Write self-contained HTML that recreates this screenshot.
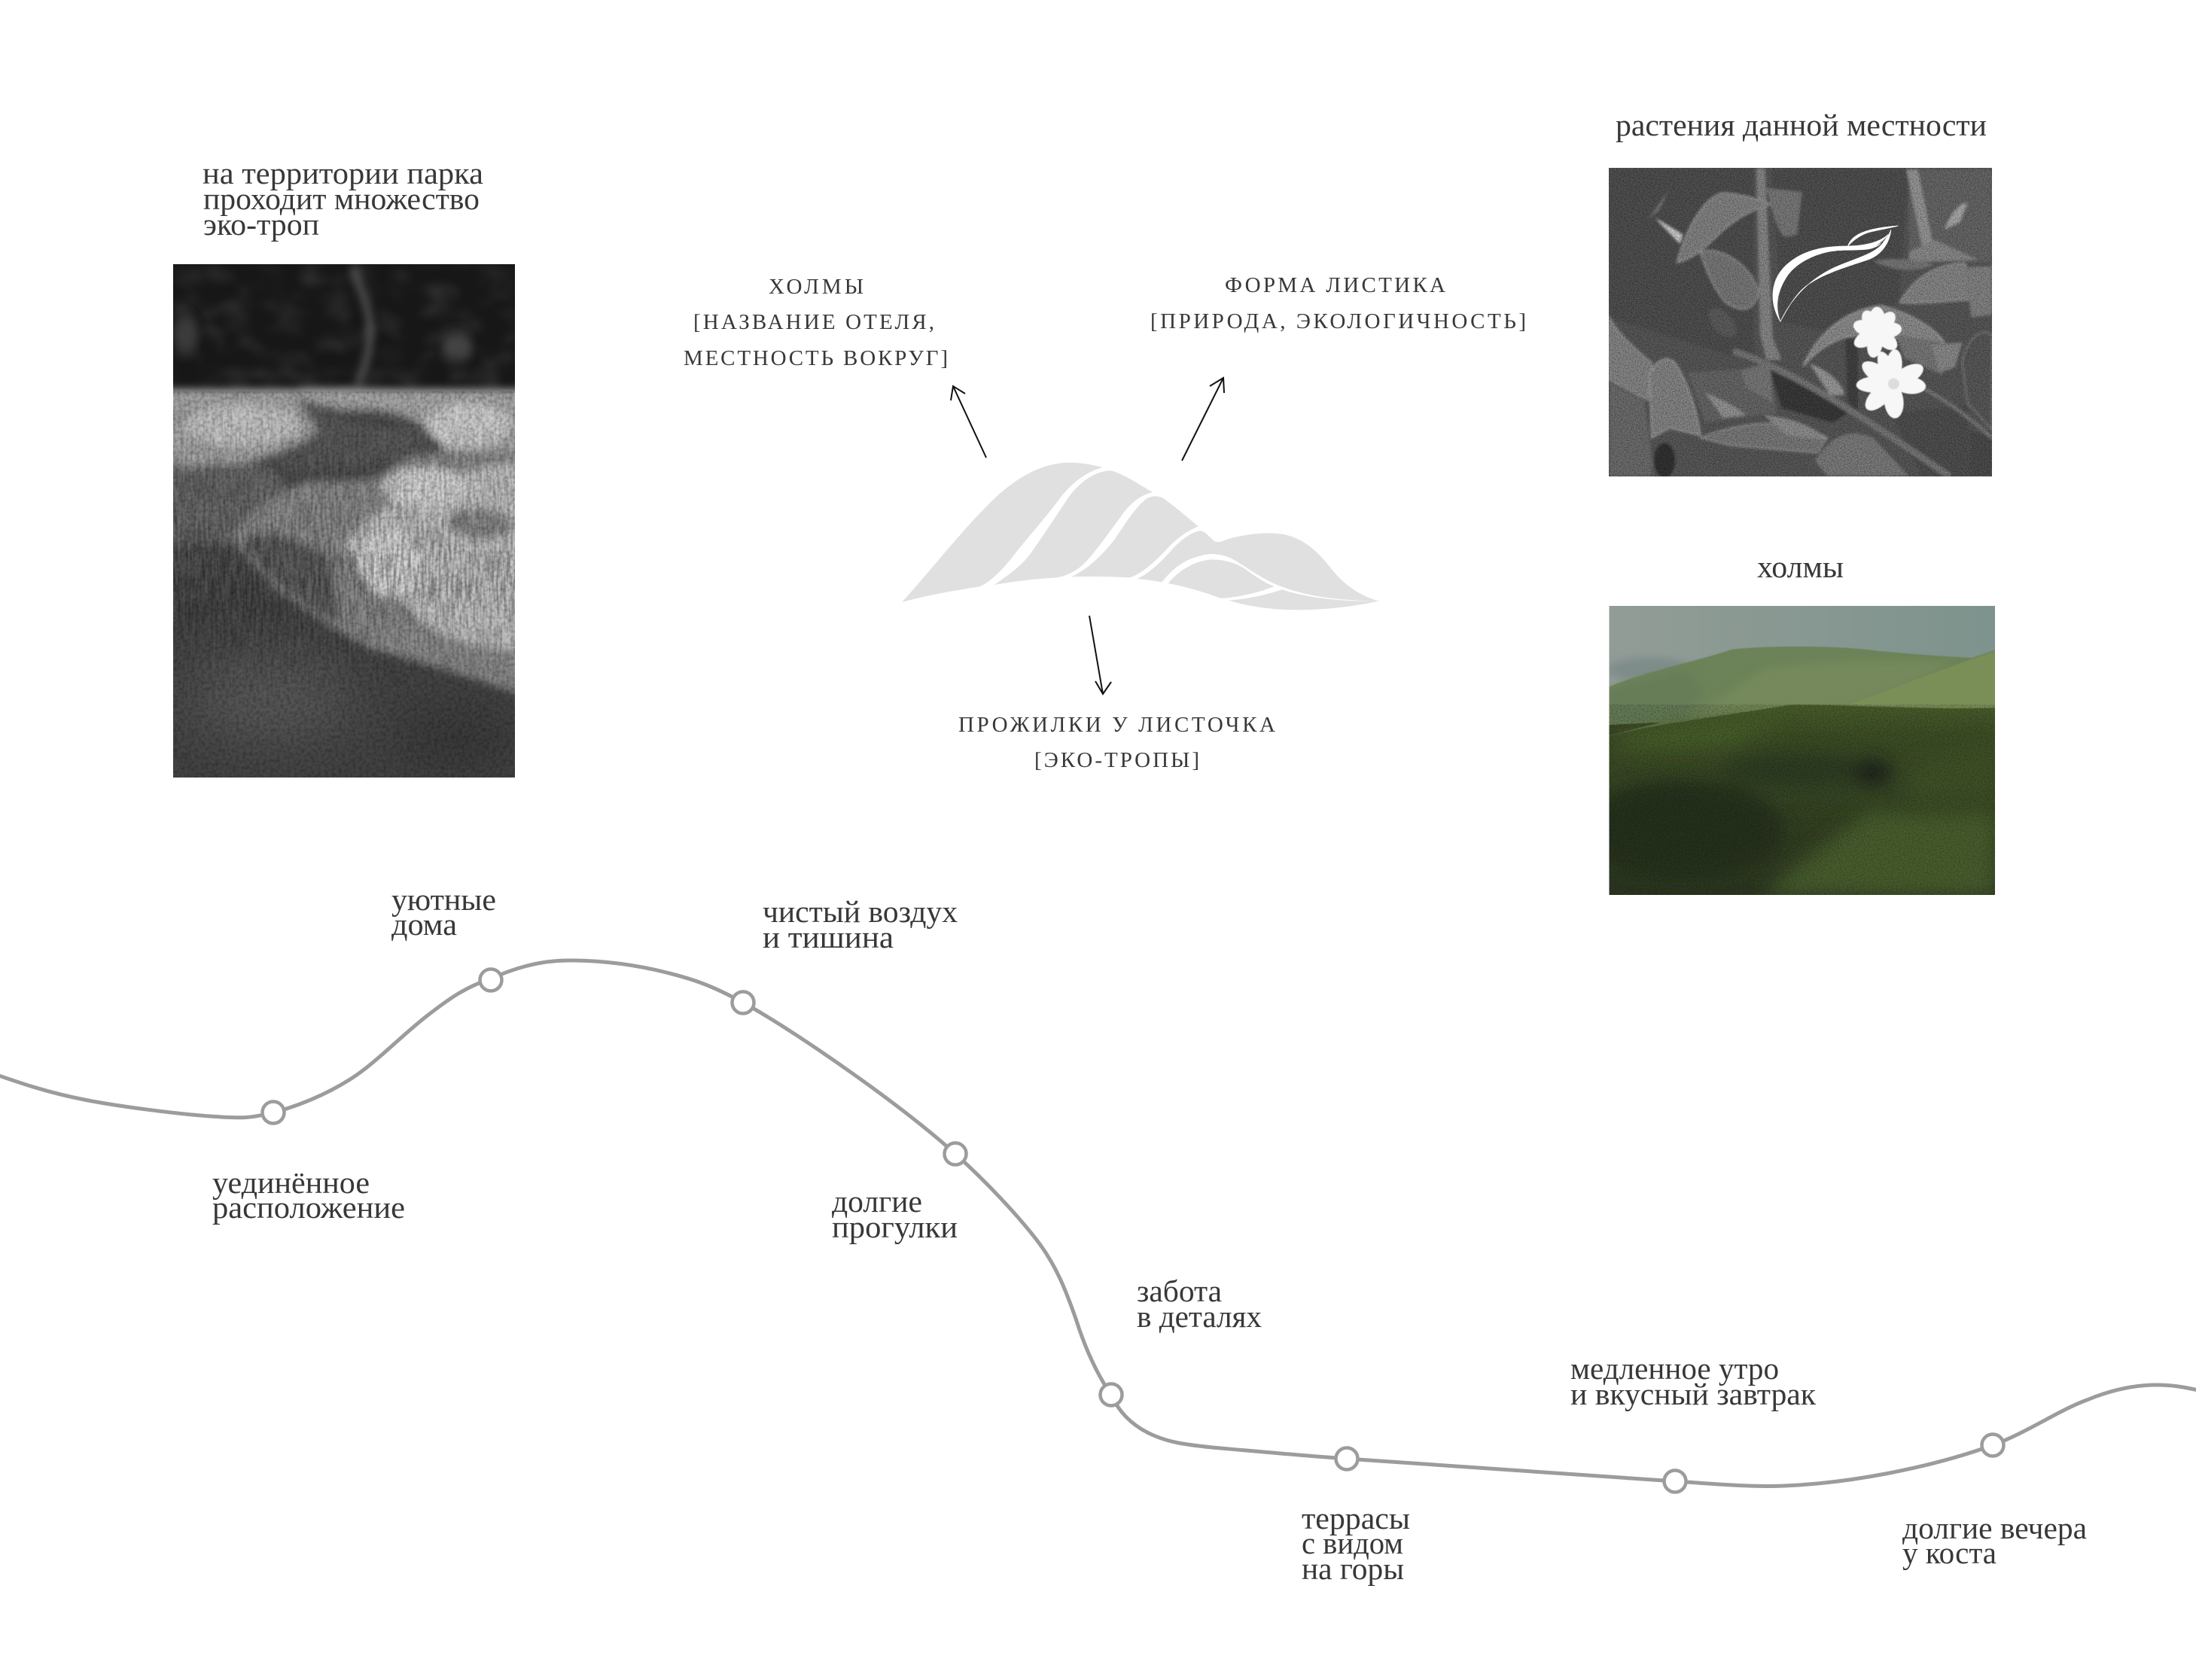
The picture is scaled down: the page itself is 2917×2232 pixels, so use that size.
<!DOCTYPE html>
<html lang="ru">
<head>
<meta charset="utf-8">
<title>Концепция</title>
<style>
html,body{margin:0;padding:0;background:#fff;width:2917px;height:2232px;overflow:hidden}
svg{display:block}
text{font-family:"Liberation Serif","Noto Serif CJK SC",serif;fill:#383838}
.b{font-size:41px}
.c{font-size:29px}
</style>
</head>
<body>
<svg width="2917" height="2232" viewBox="0 0 2917 2232" xmlns="http://www.w3.org/2000/svg">
<defs>
<clipPath id="cl"><rect x="230" y="351" width="454" height="682"/></clipPath>
<clipPath id="cp"><rect x="2137" y="223" width="509" height="410"/></clipPath>
<clipPath id="ch"><rect x="2137.5" y="805" width="512.5" height="384"/></clipPath>
<filter id="b0" x="-10%" y="-10%" width="120%" height="120%"><feGaussianBlur stdDeviation="1.5"/></filter>
<filter id="b1" x="-20%" y="-20%" width="140%" height="140%"><feGaussianBlur stdDeviation="16"/></filter>
<filter id="b2" x="-20%" y="-20%" width="140%" height="140%"><feGaussianBlur stdDeviation="5"/></filter>
<filter id="b3" x="-30%" y="-30%" width="160%" height="160%"><feGaussianBlur stdDeviation="36"/></filter>
<filter id="b4" x="-60%" y="-60%" width="220%" height="220%"><feGaussianBlur stdDeviation="90"/></filter>
<filter id="n" x="0" y="0" width="100%" height="100%"><feTurbulence type="fractalNoise" baseFrequency="0.22" numOctaves="3" seed="4"/><feColorMatrix values="0 0 0 0 0  0 0 0 0 0  0 0 0 0 0  2.4 0 0 0 -0.9"/></filter>
<filter id="nw" x="0" y="0" width="100%" height="100%"><feTurbulence type="fractalNoise" baseFrequency="0.3" numOctaves="2" seed="9"/><feColorMatrix values="0 0 0 0 1  0 0 0 0 1  0 0 0 0 1  2.4 0 0 0 -1"/></filter>
<filter id="nl" x="0" y="0" width="100%" height="100%"><feTurbulence type="fractalNoise" baseFrequency="0.03 0.045" numOctaves="2" seed="12"/><feColorMatrix values="0 0 0 0 1  0 0 0 0 1  0 0 0 0 1  2 0 0 0 -0.9"/><feGaussianBlur stdDeviation="5"/></filter>
<filter id="st" x="0" y="0" width="100%" height="100%"><feTurbulence type="fractalNoise" baseFrequency="0.3 0.03" numOctaves="2" seed="7"/><feColorMatrix values="0 0 0 0 0  0 0 0 0 0  0 0 0 0 0  3 0 0 0 -1.1"/></filter>
<linearGradient id="near" x1="0" y1="0" x2="0" y2="1"><stop offset="0" stop-color="#4a5f2c"/><stop offset=".15" stop-color="#3f5027"/><stop offset="1" stop-color="#2d3822"/></linearGradient>
<linearGradient id="sky" x1="0" y1="0" x2="1" y2="0"><stop offset="0" stop-color="#929c96"/><stop offset="1" stop-color="#7e938d"/></linearGradient>
<linearGradient id="dk" x1="0" y1="0" x2="0" y2="1"><stop offset="0" stop-color="#585858"/><stop offset="1" stop-color="#424242"/></linearGradient>
<linearGradient id="fade" x1="0" y1="0" x2="0" y2="1"><stop offset="0" stop-color="#444"/><stop offset=".5" stop-color="#fff"/><stop offset=".85" stop-color="#000"/></linearGradient>
<mask id="mg" maskUnits="userSpaceOnUse" x="230" y="520" width="454" height="513"><rect x="230" y="520" width="454" height="513" fill="url(#fade)"/></mask>
</defs>

<!-- left photo -->
<g clip-path="url(#cl)">
<rect x="230" y="351" width="454" height="682" fill="url(#dk)"/>
<rect x="230" y="351" width="454" height="172" fill="#171717"/>
<rect x="230" y="351" width="454" height="172" filter="url(#nl)" opacity=".13"/>
<g transform="translate(220,200) scale(.3333,.542)">
<g filter="url(#b1)">
<ellipse cx="80" cy="450" rx="50" ry="50" fill="#3a3a3a"/>
<ellipse cx="1160" cy="480" rx="60" ry="35" fill="#444"/>
<path d="M745,285 C790,370 870,430 760,580" stroke="#5c5c5c" stroke-width="22" fill="none"/>
</g>
</g>
<g transform="translate(225,500) scale(.3333,.3444)">
<g filter="url(#b1)">
<rect x="-20" y="50" width="1440" height="80" fill="#9c9c9c"/>
<path d="M0,340 L400,350 L470,420 L330,560 L240,640 L0,660Z" fill="#6a6a6a"/>
<path d="M0,660 L240,640 L330,780 L0,880Z" fill="#505050"/>
<path d="M0,50 L480,50 L600,220 L430,300 L300,340 L0,345Z" fill="#a6a6a6"/>
<ellipse cx="290" cy="190" rx="230" ry="80" fill="#c4c4c4"/>
<path d="M500,85 C700,150 900,140 1010,250 L900,330 L520,370 L430,330 L610,200Z" fill="#5a5a5a"/>
<path d="M560,110 C700,160 850,150 930,200 L700,165Z" fill="#3c3c3c"/>
<path d="M510,45 L1400,55 L1400,310 L1100,300 C1040,190 960,150 820,130 C700,120 600,100 510,45Z" fill="#a8a8a8"/>
<ellipse cx="1190" cy="190" rx="170" ry="85" fill="#cecece"/>
<path d="M240,620 C330,520 420,420 600,400 C750,410 850,400 930,320 C1000,280 1200,290 1400,290 L1400,1230 C1200,1160 1000,1100 800,1050 C600,950 400,830 240,620Z" fill="#8c8c8c"/>
<path d="M280,640 C350,600 500,600 640,700 L680,950 C560,900 400,800 280,640Z" fill="#606060"/>
<path d="M700,640 C850,480 1100,360 1400,330 L1400,1060 C1200,1040 1000,1000 900,830 C800,760 720,720 700,640Z" fill="#c2c2c2"/>
<ellipse cx="880" cy="720" rx="120" ry="130" fill="#d6d6d6"/>
<ellipse cx="1020" cy="430" rx="170" ry="80" fill="#d4d4d4"/>
<ellipse cx="1240" cy="570" rx="130" ry="60" fill="#8c8c8c"/>
</g>
<g filter="url(#b4)">
<ellipse cx="1150" cy="1400" rx="260" ry="130" fill="#383838"/>
<ellipse cx="400" cy="1220" rx="320" ry="170" fill="#565656"/>
</g>
</g>
<rect x="230" y="520" width="454" height="513" filter="url(#st)" opacity=".3" mask="url(#mg)"/>
<rect x="230" y="520" width="454" height="513" filter="url(#n)" opacity=".22"/>
</g>

<!-- plants photo -->
<g clip-path="url(#cp)">
<rect x="2137" y="223" width="509" height="410" fill="#525252"/>
<g transform="translate(2130,215) scale(.338,.3333)">
<g filter="url(#b2)">
<path d="M22,25 L590,25 L590,800 L22,620Z" fill="#484848"/>
<path d="M660,25 L1200,25 L1160,560 L900,680 L700,640Z" fill="#4a4a4a"/>
<path d="M330,840 L650,820 L680,1000 L400,1040Z" fill="#626262"/>
<path d="M540,830 L655,800 L665,960 L560,900Z" fill="#747474"/>
<path d="M1200,30 L1527,30 L1527,400 L1200,400Z" fill="#626262"/>
<path d="M600,25 L635,25 L665,700 L700,790 L640,790 L615,690Z" fill="#858585"/>
<path d="M290,400 C330,250 400,140 470,125 C540,130 610,150 660,170 C570,190 500,240 440,300 C390,350 340,390 290,400Z" fill="#808080" stroke="#9a9a9a" stroke-width="6"/>
<path d="M205,225 L310,290 L300,325Z" fill="#d0d0d0"/>
<path d="M175,230 L255,115 L220,190Z" fill="#747474"/>
<path d="M380,360 C470,330 590,430 610,520 C590,600 540,600 480,560 C430,500 400,420 380,360Z" fill="#747474" stroke="#949494" stroke-width="6"/>
<path d="M640,105 L780,120 L760,290 L710,300 C670,250 660,170 640,110Z" fill="#767676"/>
<path d="M415,600 C440,550 520,620 525,680 C500,720 420,690 415,600Z" fill="#585858"/>
<path d="M1165,560 C1220,460 1310,405 1420,405 C1450,460 1460,530 1440,550 C1340,555 1240,570 1165,560Z" fill="#848484" stroke="#9a9a9a" stroke-width="6"/>
<path d="M1420,420 L1527,415 L1527,610 L1445,620Z" fill="#808080"/>
<path d="M1190,30 L1235,30 L1295,330 L1250,330Z" fill="#949494"/>
<path d="M1340,270 C1370,190 1410,160 1430,165 L1400,240Z" fill="#a8a8a8"/>
<path d="M1200,360 L1300,310 L1470,390 L1200,400Z" fill="#888"/>
<path d="M1060,395 C1140,380 1240,390 1300,410 C1240,440 1140,440 1060,395Z" fill="#747474"/>
<path d="M22,620 C70,700 140,760 190,800 L175,950 L22,870Z" fill="#838383" stroke="#9a9a9a" stroke-width="5"/>
<path d="M180,850 C200,790 250,770 280,800 C330,870 370,1000 380,1090 L260,1060 L190,1100Z" fill="#828282" stroke="#a0a0a0" stroke-width="6"/>
<path d="M22,880 L160,950 L200,1253 L22,1253Z" fill="#686868"/>
<path d="M190,1253 C190,1140 240,1060 280,1070 L480,1253Z" fill="#525252"/>
<ellipse cx="240" cy="1190" rx="42" ry="70" fill="#2c2c2c"/>
<path d="M380,1100 C500,1050 720,1000 880,1100 L840,1160 L500,1130Z" fill="#767676" stroke="#9a9a9a" stroke-width="5"/>
<path d="M630,1010 C720,1015 830,1050 880,1110 L720,1090Z" fill="#8c8c8c"/>
<path d="M400,920 C450,940 530,980 560,1010 L470,1020Z" fill="#929292"/>
<path d="M655,830 L800,900 L960,1000 L900,1040 L700,980Z" fill="#303030"/>
<path d="M785,815 C840,680 960,590 1090,575 C1200,600 1300,660 1340,720 C1250,720 1150,700 1000,690 C900,700 830,760 785,815Z" fill="#8a8a8a" stroke="#a4a4a4" stroke-width="6"/>
<path d="M950,700 L1000,710 L1000,1000 L960,960Z" fill="#3a3a3a"/>
<path d="M1150,690 L1340,720 L1330,850 L1180,780Z" fill="#747474"/>
<path d="M1290,730 L1410,720 L1380,820 L1320,840Z" fill="#888"/>
<path d="M1410,800 C1420,720 1480,650 1527,690 L1527,1070 L1430,960Z" fill="#525252" stroke="#808080" stroke-width="5"/>
<path d="M810,805 C870,820 950,890 945,930 L890,930Z" fill="#989898"/>
<path d="M1130,1000 L1430,970 L1440,1253 L1250,1253Z" fill="#4a4a4a"/>
<path d="M830,1190 C900,1090 960,1060 1060,1100 L1200,1253 L880,1253Z" fill="#787878"/>
<path d="M1440,1070 L1527,1100 L1527,1253 L1440,1253Z" fill="#444"/>
<path d="M510,755 C750,830 1050,1040 1360,1253" stroke="#747474" stroke-width="26" fill="none"/>
<path d="M1250,900 C1350,950 1450,1030 1527,1100" stroke="#787878" stroke-width="14" fill="none"/>
</g>
<rect x="22" y="25" width="1505" height="1228" filter="url(#n)" opacity=".4"/>
<rect x="22" y="25" width="1505" height="1228" filter="url(#nw)" opacity=".16"/>
<g fill="#f7f7f7" filter="url(#b0)">
<g>
<ellipse cx="1075" cy="632" rx="32" ry="54"/>
<ellipse cx="1075" cy="632" rx="30" ry="54" transform="rotate(40 1075 680)"/>
<ellipse cx="1075" cy="632" rx="30" ry="50" transform="rotate(80 1075 680)"/>
<ellipse cx="1075" cy="632" rx="30" ry="50" transform="rotate(130 1075 680)"/>
<ellipse cx="1075" cy="632" rx="30" ry="54" transform="rotate(190 1075 680)"/>
<ellipse cx="1075" cy="632" rx="30" ry="54" transform="rotate(240 1075 680)"/>
<ellipse cx="1075" cy="632" rx="30" ry="50" transform="rotate(290 1075 680)"/>
<ellipse cx="1075" cy="632" rx="30" ry="50" transform="rotate(330 1075 680)"/>
<circle cx="1075" cy="680" r="50"/>
</g>
<g>
<ellipse cx="1135" cy="815" rx="32" ry="68" transform="rotate(5 1135 885)"/>
<ellipse cx="1135" cy="815" rx="34" ry="68" transform="rotate(60 1135 885)"/>
<ellipse cx="1135" cy="815" rx="34" ry="62" transform="rotate(95 1135 885)"/>
<ellipse cx="1135" cy="815" rx="38" ry="68" transform="rotate(175 1135 885)"/>
<ellipse cx="1135" cy="815" rx="36" ry="72" transform="rotate(225 1135 885)"/>
<ellipse cx="1135" cy="815" rx="32" ry="72" transform="rotate(268 1135 885)"/>
<ellipse cx="1135" cy="815" rx="34" ry="72" transform="rotate(305 1135 885)"/>
<ellipse cx="1135" cy="815" rx="28" ry="66" transform="rotate(340 1135 885)"/>
<circle cx="1130" cy="885" r="50"/>
<circle cx="1140" cy="885" r="22" fill="#dcdcdc"/>
</g>
</g>
<g fill="#fff" stroke="#fff" stroke-width="2">
<path d="M695,637 C650,560 655,470 720,410 C780,355 860,335 965,336 C1020,336 1060,345 1090,325 C1060,355 1010,350 950,352 C860,352 770,390 725,450 C685,510 670,570 695,637Z"/>
<path d="M695,637 C740,540 810,470 900,425 C970,390 1070,370 1100,320 C1115,300 1125,285 1130,270 C1125,320 1095,370 1040,390 C950,420 850,450 790,500 C750,535 720,590 695,637Z"/>
<path d="M960,336 C975,290 1030,265 1158,255 C1100,270 1050,275 1020,290 C990,305 975,320 960,336Z"/>
<path d="M960,336 C1020,335 1080,325 1118,290 C1090,330 1050,345 1020,342Z"/>
</g>
</g>
</g>

<!-- hills photo -->
<g clip-path="url(#ch)">
<rect x="2137.5" y="805" width="512.5" height="384" fill="url(#sky)"/>
<g transform="translate(2120,730) scale(.357,.333)">
<g filter="url(#b1)"><ellipse cx="200" cy="480" rx="160" ry="50" fill="#7e8c8a"/></g>
<path d="M49,548 C200,480 400,440 500,400 C600,385 900,380 1050,405 C1200,420 1350,430 1400,432 L1490,400 L1490,720 L40,720Z" fill="#6c8258" filter="url(#b0)"/>
<g filter="url(#b1)">
<path d="M40,560 L330,480 L400,560 L330,680 L40,700Z" fill="#667d58"/>
<path d="M340,678 C430,620 510,560 620,480 C800,440 1100,440 1330,450 C1200,520 1050,590 930,625 L600,660Z" fill="#74895c"/>
</g>
<path d="M930,622 C1100,560 1300,470 1490,405 L1490,650 L950,650Z" fill="#7a8f58" filter="url(#b0)"/>
<path d="M40,700 L240,690 L40,745Z" fill="#3c4a26"/>
<path d="M40,745 C200,700 500,660 720,620 C900,615 1200,640 1490,632 L1490,1385 L40,1385Z" fill="url(#near)" filter="url(#b0)"/>
<g filter="url(#b3)">
<ellipse cx="320" cy="1120" rx="380" ry="200" fill="#28311f"/>
<ellipse cx="760" cy="880" rx="300" ry="70" fill="#2f3c22"/>
<ellipse cx="1030" cy="890" rx="70" ry="50" fill="#1b241a"/>
<path d="M620,1380 C750,1260 900,1130 1030,1040 C1150,1060 1300,1050 1490,1040 L1490,1385Z" fill="#4a5f2e"/>
<path d="M1180,850 L1490,760 L1490,1000 L1150,1000Z" fill="#3f5228"/>
<path d="M100,745 C300,690 600,680 700,680 L500,780 L100,800Z" fill="#4a6229"/>
</g>
<rect x="40" y="620" width="1450" height="765" filter="url(#n)" opacity=".3"/>
</g>
</g>

<!-- mountain logo -->
<g transform="translate(1150,560) scale(.4591,.3333)" fill="#e0e0e0">
<path d="M105,720 C190,590 280,430 370,310 C450,205 530,155 610,165 C640,168 665,175 685,183 C640,200 600,240 565,300 C520,385 470,460 430,530 C400,585 365,635 330,658 C250,675 170,695 105,720Z"/>
<path d="M372,651 C420,605 455,570 480,520 C515,450 550,380 578,320 C610,250 660,195 710,196 C740,205 790,250 830,282 C790,295 760,335 740,375 C700,450 660,530 625,575 C600,605 570,620 545,623 C480,628 420,640 372,651Z"/>
<path d="M595,619 C640,590 680,540 720,470 C750,410 775,350 810,310 C825,295 845,295 860,305 C890,335 930,380 962,418 C930,435 900,465 870,510 C840,555 800,605 765,622 C710,618 650,617 595,619Z"/>
<path d="M785,627 C820,605 850,565 880,520 C905,480 935,445 965,436 C980,435 990,455 1008,476 C1015,483 1025,482 1040,472 C1090,450 1160,438 1210,450 C1280,470 1320,540 1355,600 C1385,650 1430,695 1485,716 C1380,715 1270,700 1180,645 C1140,620 1100,580 1070,555 C1040,530 1000,520 970,535 C920,550 885,590 857,640 C835,635 810,630 785,627Z"/>
<path d="M875,645 C905,595 950,555 1000,550 C1040,550 1075,565 1100,590 C1125,615 1150,640 1182,657 C1130,685 1080,700 1028,705 C980,680 930,660 875,645Z"/>
<path d="M1050,713 C1100,708 1150,695 1205,670 C1280,705 1380,718 1485,716 C1400,740 1320,752 1240,751 C1170,750 1100,735 1050,713Z"/>
</g>

<!-- arrows -->
<g stroke="#111" stroke-width="2" fill="none">
<path d="M1310,608 L1266,513 M1263,532 L1266,513 L1282,523"/>
<path d="M1570,612 L1625,502 M1607,513 L1625,502 L1626,522"/>
<path d="M1447,818 L1465,922 M1455,905 L1465,922 L1476,906"/>
</g>

<!-- route -->
<path d="M-10 1426 C30 1440 64 1451.5 112 1461 C160 1470.5 237 1480 279 1483 C321 1486 332 1486 363 1478 C394 1470 431 1455.5 465 1434 C499 1412.5 533 1376 568 1349 C599 1325 618 1312 652 1300 C680 1288 714 1276 755 1276 C805 1276 849 1283 885 1292 C921 1301 945 1309 987 1332 C1029 1355 1088 1394.5 1135 1428 C1182 1461.5 1229 1497 1269 1533 C1309 1569 1349 1611.5 1376 1646 C1403 1680.5 1416 1715 1429 1752 C1441 1790 1456 1824 1476 1853 C1488 1880 1508 1896 1530 1906 C1552 1916 1572 1919 1610 1923 C1655 1927 1731 1934 1789 1938 C1934 1948 2080 1958 2225 1968 C2273 1971 2323 1976 2370 1974 C2417 1972 2464 1966 2510 1957 C2556 1948 2603 1936 2647 1920 C2691 1904 2736 1873 2772 1860 C2808 1845 2840 1840 2865 1840 C2890 1840 2905 1844 2925 1848" fill="none" stroke="#9c9c9c" stroke-width="5"/>
<g fill="#fff" stroke="#9c9c9c" stroke-width="4.5">
<circle cx="363" cy="1478" r="14.5"/>
<circle cx="652" cy="1302" r="14.5"/>
<circle cx="987" cy="1332" r="14.5"/>
<circle cx="1269" cy="1533" r="14.5"/>
<circle cx="1476" cy="1853" r="14.5"/>
<circle cx="1789" cy="1938" r="14.5"/>
<circle cx="2225" cy="1968" r="14.5"/>
<circle cx="2647" cy="1920" r="14.5"/>
</g>

<!-- photo captions -->
<text class="b" x="269" y="244" textLength="373" lengthAdjust="spacingAndGlyphs">на территории парка</text>
<text class="b" x="270" y="278" textLength="367" lengthAdjust="spacingAndGlyphs">проходит множество</text>
<text class="b" x="270" y="312" textLength="154" lengthAdjust="spacingAndGlyphs">эко-троп</text>
<text class="b" x="2146" y="180" textLength="493" lengthAdjust="spacingAndGlyphs">растения данной местности</text>
<text class="b" x="2334" y="767" textLength="115" lengthAdjust="spacingAndGlyphs">холмы</text>

<!-- centre labels -->
<text class="c" x="1021" y="390" textLength="126" lengthAdjust="spacing">ХОЛМЫ</text>
<text class="c" x="921" y="437" textLength="320" lengthAdjust="spacing">[НАЗВАНИЕ ОТЕЛЯ,</text>
<text class="c" x="908" y="485" textLength="351" lengthAdjust="spacing">МЕСТНОСТЬ ВОКРУГ]</text>
<text class="c" x="1627" y="388" textLength="293" lengthAdjust="spacing">ФОРМА ЛИСТИКА</text>
<text class="c" x="1528" y="436" textLength="499" lengthAdjust="spacing">[ПРИРОДА, ЭКОЛОГИЧНОСТЬ]</text>
<text class="c" x="1273" y="972" textLength="421" lengthAdjust="spacing">ПРОЖИЛКИ У ЛИСТОЧКА</text>
<text class="c" x="1374" y="1019" textLength="219" lengthAdjust="spacing">[ЭКО-ТРОПЫ]</text>

<!-- route labels -->
<text class="b" x="520" y="1209" textLength="139" lengthAdjust="spacingAndGlyphs">уютные</text>
<text class="b" x="520" y="1242" textLength="87" lengthAdjust="spacingAndGlyphs">дома</text>
<text class="b" x="1013" y="1225" textLength="259" lengthAdjust="spacingAndGlyphs">чистый воздух</text>
<text class="b" x="1013" y="1259" textLength="174" lengthAdjust="spacingAndGlyphs">и тишина</text>
<text class="b" x="282" y="1585" textLength="209" lengthAdjust="spacingAndGlyphs">уединённое</text>
<text class="b" x="282" y="1618" textLength="256" lengthAdjust="spacingAndGlyphs">расположение</text>
<text class="b" x="1105" y="1610" textLength="120" lengthAdjust="spacingAndGlyphs">долгие</text>
<text class="b" x="1105" y="1644" textLength="167" lengthAdjust="spacingAndGlyphs">прогулки</text>
<text class="b" x="1510" y="1729" textLength="113" lengthAdjust="spacingAndGlyphs">забота</text>
<text class="b" x="1510" y="1763" textLength="166" lengthAdjust="spacingAndGlyphs">в деталях</text>
<text class="b" x="2086" y="1832" textLength="277" lengthAdjust="spacingAndGlyphs">медленное утро</text>
<text class="b" x="2086" y="1866" textLength="326" lengthAdjust="spacingAndGlyphs">и вкусный завтрак</text>
<text class="b" x="1729" y="2031" textLength="144" lengthAdjust="spacingAndGlyphs">террасы</text>
<text class="b" x="1729" y="2064" textLength="135" lengthAdjust="spacingAndGlyphs">с видом</text>
<text class="b" x="1729" y="2098" textLength="136" lengthAdjust="spacingAndGlyphs">на горы</text>
<text class="b" x="2527" y="2044" textLength="245" lengthAdjust="spacingAndGlyphs">долгие вечера</text>
<text class="b" x="2527" y="2077" textLength="125" lengthAdjust="spacingAndGlyphs">у коста</text>
</svg>
</body>
</html>
